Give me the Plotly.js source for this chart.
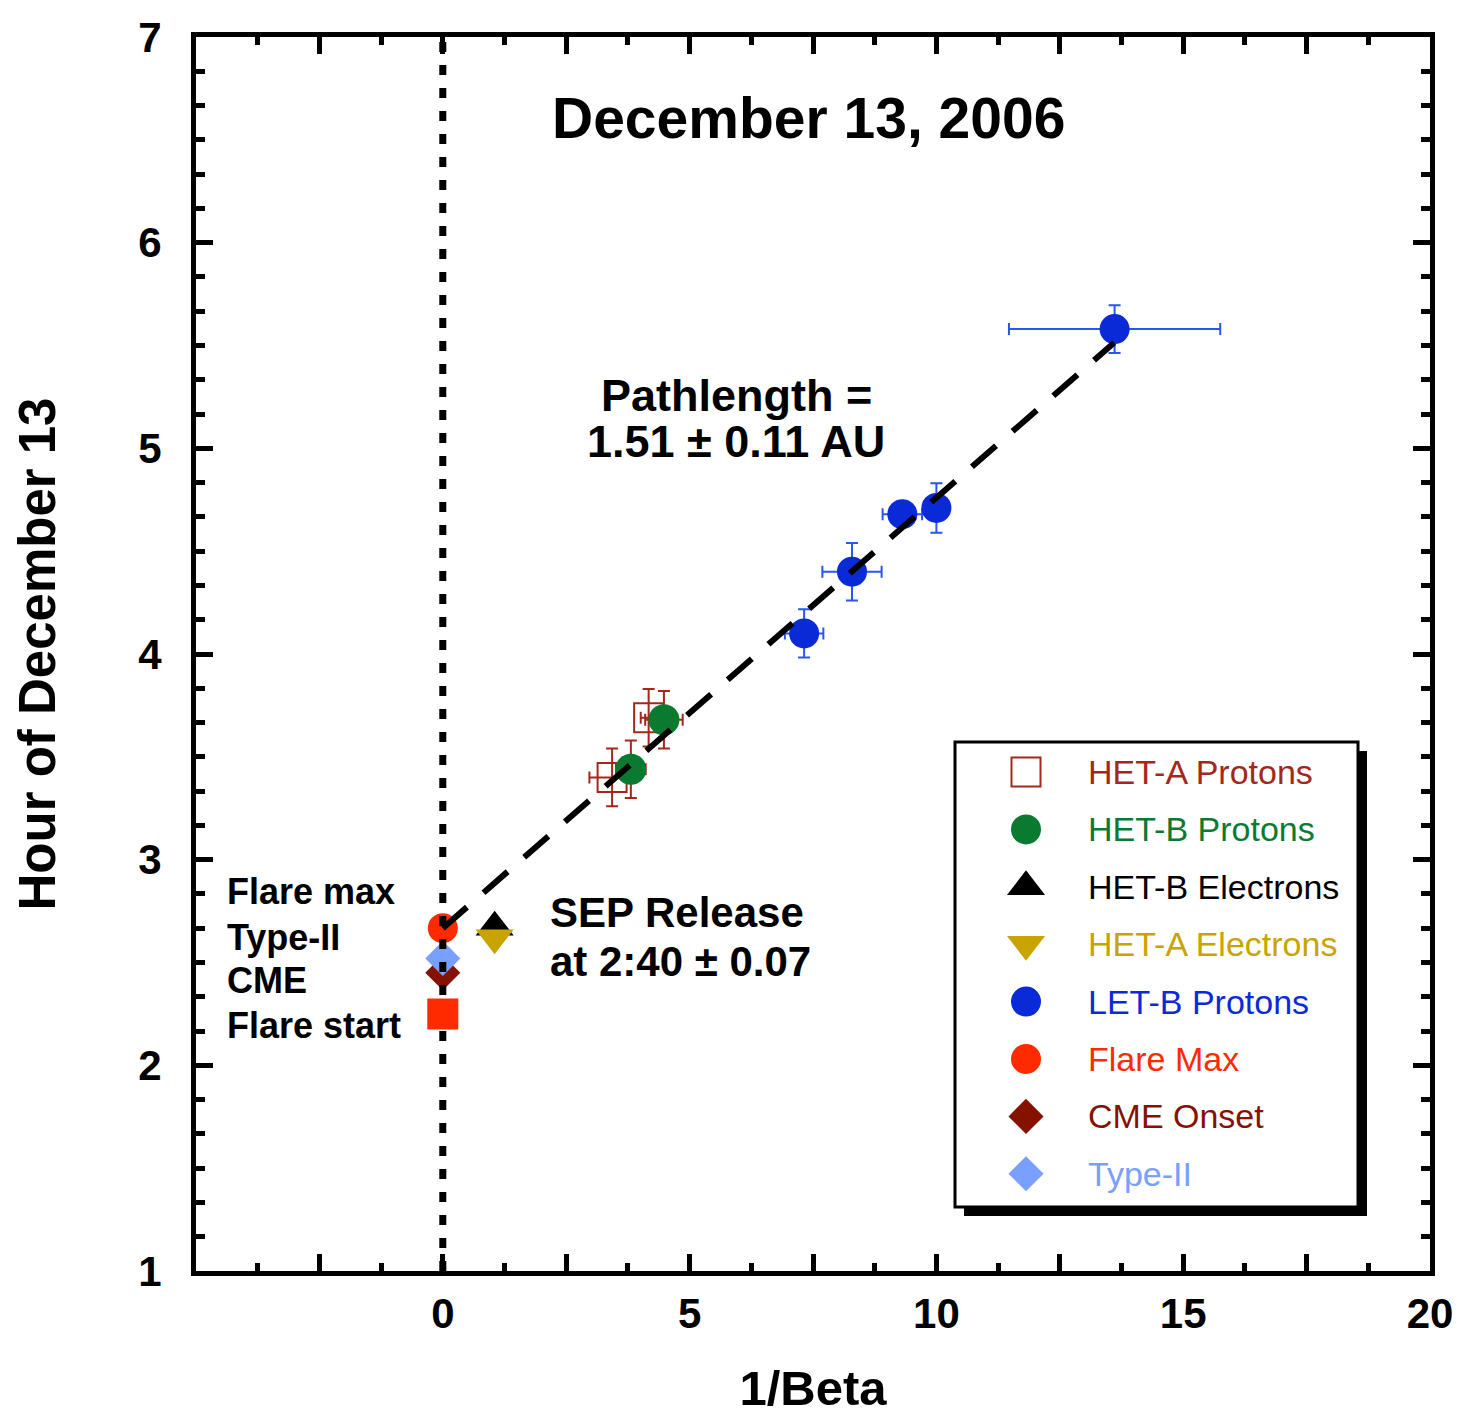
<!DOCTYPE html>
<html>
<head>
<meta charset="utf-8">
<script src="https://cdn.plot.ly/plotly-3.0.1.min.js"></script>
<style>
  html, body { margin: 0; padding: 0; background: #ffffff; }
  #chart { width: 1463px; height: 1415px; }
</style>
</head>
<body>
<div id="chart"></div>
<script>
// Velocity dispersion analysis, December 13, 2006 SEP event.
// Onset time (hour of day) versus 1/beta for each channel.

// HET-A protons
const hetAProtonsX    = [3.43, 4.17];
const hetAProtonsY    = [3.40, 3.69];
const hetAProtonsXErr = [0.46, 0.16];
const hetAProtonsYErr = [0.14, 0.14];

// HET-B protons
const hetBProtonsX    = [3.81, 4.48];
const hetBProtonsY    = [3.44, 3.68];
const hetBProtonsXErr = [0.30, 0.38];
const hetBProtonsYErr = [0.14, 0.14];

// LET-B protons
const letBProtonsX    = [7.32, 8.29, 9.31, 10.00, 13.61];
const letBProtonsY    = [4.10, 4.40, 4.68, 4.71, 5.58];
const letBProtonsXErr = [0.39, 0.60, 0.40, 0.20, 2.14];
const letBProtonsYErr = [0.117, 0.14, 0.06, 0.12, 0.116];

// Electrons
const hetBElectronsX = [1.05];
const hetBElectronsY = [2.672];
const hetAElectronsX = [1.05];
const hetAElectronsY = [2.62];

// Solar event times at 1/beta = 0
const flareMaxX   = [0];
const flareMaxY   = [2.667];
const cmeOnsetX   = [0];
const cmeOnsetY   = [2.45];
const typeIIX     = [0];
const typeIIY     = [2.52];
const flareStartX = [0];
const flareStartY = [2.25];

// Velocity-dispersion fit (release at 2:40, pathlength 1.51 AU)
const fitX = [0, 13.6];
const fitY = [2.667, 5.513];

// Reference line at 1/beta = 0
const zeroLineX = [0, 0];
const zeroLineY = [1, 7];

// Axis ticks
const xTickVals = [-2.5, 0, 2.5, 5, 7.5, 10, 12.5, 15, 17.5, 20];
const xTickText = ['', '0', '', '5', '', '10', '', '15', '', '20'];
const yTickVals = [1, 2, 3, 4, 5, 6, 7];

// Legend entries
const legendLabels  = ['HET-A Protons', 'HET-B Protons', 'HET-B Electrons', 'HET-A Electrons',
                       'LET-B Protons', 'Flare Max', 'CME Onset', 'Type-II'];
const legendColors  = ['#a3281c', '#0a7a30', '#000000', '#c9a400',
                       '#0a2ad8', '#ff2a00', '#851200', '#7aa0ff'];
const legendSymbols = ['square-open', 'circle', 'triangle-up', 'triangle-down',
                       'circle', 'circle', 'diamond', 'diamond'];

const FONT = 'Liberation Sans, Arial, Helvetica, sans-serif';
const C = {
  hetA: '#a3281c', hetB: '#0a7a30', letB: '#0a2ad8', letBErr: '#2a55ee',
  elecB: '#000000', elecA: '#c9a400', flare: '#ff2a00', cme: '#851200', typeII: '#7aa0ff'
};

const traces = [
  {
    x: hetAProtonsX, y: hetAProtonsY, type: 'scatter', mode: 'markers',
    marker: { symbol: 'square-open', size: 29, color: C.hetA, line: { width: 2, color: C.hetA } },
    error_x: { type: 'data', array: hetAProtonsXErr, color: C.hetA, thickness: 2, width: 6 },
    error_y: { type: 'data', array: hetAProtonsYErr, color: C.hetA, thickness: 2, width: 6 }
  },
  {
    x: hetBProtonsX, y: hetBProtonsY, type: 'scatter', mode: 'markers',
    marker: { symbol: 'circle', size: 31, color: C.hetB },
    error_x: { type: 'data', array: hetBProtonsXErr, color: C.hetA, thickness: 2, width: 6 },
    error_y: { type: 'data', array: hetBProtonsYErr, color: C.hetA, thickness: 2, width: 6 }
  },
  {
    x: letBProtonsX, y: letBProtonsY, type: 'scatter', mode: 'markers',
    marker: { symbol: 'circle', size: 30, color: C.letB },
    error_x: { type: 'data', array: letBProtonsXErr, color: C.letBErr, thickness: 2, width: 6 },
    error_y: { type: 'data', array: letBProtonsYErr, color: C.letBErr, thickness: 2, width: 6 }
  },
  {
    x: hetBElectronsX, y: hetBElectronsY, type: 'scatter', mode: 'markers',
    marker: { symbol: 'triangle-up', size: 33, color: C.elecB }
  },
  {
    x: hetAElectronsX, y: hetAElectronsY, type: 'scatter', mode: 'markers',
    marker: { symbol: 'triangle-down', size: 33, color: C.elecA }
  },
  {
    x: flareMaxX, y: flareMaxY, type: 'scatter', mode: 'markers',
    marker: { symbol: 'circle', size: 30, color: C.flare }
  },
  {
    x: cmeOnsetX, y: cmeOnsetY, type: 'scatter', mode: 'markers',
    marker: { symbol: 'diamond', size: 27, color: C.cme }
  },
  {
    x: typeIIX, y: typeIIY, type: 'scatter', mode: 'markers',
    marker: { symbol: 'diamond', size: 27, color: C.typeII }
  },
  {
    x: fitX, y: fitY, type: 'scatter', mode: 'lines',
    line: { color: '#000000', width: 6, dash: '32px,22px' }
  },
  {
    x: zeroLineX, y: zeroLineY, type: 'scatter', mode: 'lines',
    line: { color: '#000000', width: 7, dash: '10px,13px' }
  },
  {
    x: flareStartX, y: flareStartY, type: 'scatter', mode: 'markers',
    marker: { symbol: 'square', size: 28, color: C.flare, line: { width: 3, color: C.flare } }
  }
];

// Legend panel (paper coordinates)
const plotL = 196, plotT = 37, plotW = 1234, plotH = 1234;
const px2x = p => (p - plotL) / plotW;
const px2y = p => 1 - (p - plotT) / plotH;
const legBox = { x0: px2x(955), x1: px2x(1358), y0: px2y(1207), y1: px2y(742) };
const shadowDx = 9 / plotW, shadowDy = 9 / plotH;
const keyX = px2x(1026), labelX = px2x(1086);
const rowY0 = px2y(772), rowStep = 57.4 / plotH;

legendLabels.forEach((lab, i) => {
  const open = legendSymbols[i] === 'square-open';
  const isDiamond = legendSymbols[i] === 'diamond';
  const isTri = legendSymbols[i].indexOf('triangle') === 0;
  traces.push({
    x: [keyX], y: [rowY0 - i * rowStep], xaxis: 'x2', yaxis: 'y2',
    type: 'scatter', mode: 'markers', cliponaxis: false,
    marker: {
      symbol: legendSymbols[i],
      size: open ? 29 : (isDiamond ? 27 : (isTri ? 33 : 30)),
      color: legendColors[i],
      line: open ? { width: 2, color: legendColors[i] } : { width: 0 }
    }
  });
});

const boldFont = (size) => ({ family: FONT, size: size, color: '#000000', weight: 'bold' });

const annotations = [
  { x: 7.4, y: 6.605, text: 'December 13, 2006', xanchor: 'center', yanchor: 'middle', font: boldFont(57) },
  { x: 5.95, y: 5.255, text: 'Pathlength =', xanchor: 'center', yanchor: 'middle', font: boldFont(45) },
  { x: 5.95, y: 5.035, text: '1.51 ± 0.11 AU', xanchor: 'center', yanchor: 'middle', font: boldFont(45) },
  { x: 2.14, y: 2.745, text: 'SEP Release', xanchor: 'left', yanchor: 'middle', font: boldFont(42) },
  { x: 2.14, y: 2.503, text: 'at 2:40 ± 0.07', xanchor: 'left', yanchor: 'middle', font: boldFont(42) },
  { x: -4.42, y: 2.845, text: 'Flare max', xanchor: 'left', yanchor: 'middle', font: boldFont(36) },
  { x: -4.42, y: 2.622, text: 'Type-II', xanchor: 'left', yanchor: 'middle', font: boldFont(36) },
  { x: -4.42, y: 2.414, text: 'CME', xanchor: 'left', yanchor: 'middle', font: boldFont(36) },
  { x: -4.42, y: 2.192, text: 'Flare start', xanchor: 'left', yanchor: 'middle', font: boldFont(36) }
].map(a => Object.assign({ xref: 'x', yref: 'y', showarrow: false }, a));

legendLabels.forEach((lab, i) => {
  annotations.push({
    xref: 'paper', yref: 'paper', x: labelX, y: rowY0 - i * rowStep,
    xanchor: 'left', yanchor: 'middle', showarrow: false, text: lab,
    font: { family: FONT, size: 34, color: legendColors[i] }
  });
});

const layout = {
  width: 1463, height: 1415,
  margin: { l: plotL, t: plotT, r: 1463 - plotL - plotW, b: 1415 - plotT - plotH, pad: 0 },
  paper_bgcolor: '#ffffff', plot_bgcolor: '#ffffff',
  showlegend: false,
  font: { family: FONT, color: '#000000' },
  xaxis: {
    range: [-5, 20], showgrid: false, zeroline: false,
    showline: true, linewidth: 5, linecolor: '#000000', mirror: 'ticks',
    ticks: 'inside', ticklen: 17, tickwidth: 5, tickcolor: '#000000',
    tickmode: 'array', tickvals: xTickVals, ticktext: xTickText,
    tickfont: boldFont(42), ticklabelstandoff: 2,
    minor: { tickmode: 'linear', tick0: -5, dtick: 1.25, ticks: 'inside', ticklen: 8, tickwidth: 5, tickcolor: '#000000', showgrid: false },
    title: { text: '1/Beta', font: boldFont(49), standoff: 36 },
    automargin: false
  },
  yaxis: {
    range: [1, 7], showgrid: false, zeroline: false,
    showline: true, linewidth: 5, linecolor: '#000000', mirror: 'ticks',
    ticks: 'inside', ticklen: 17, tickwidth: 5, tickcolor: '#000000',
    tickmode: 'array', tickvals: yTickVals,
    tickfont: boldFont(42), ticklabelstandoff: 21,
    minor: { tickmode: 'linear', tick0: 1, dtick: 1 / 6, ticks: 'inside', ticklen: 9, tickwidth: 5, tickcolor: '#000000', showgrid: false },
    title: { text: 'Hour of December 13', font: boldFont(51), standoff: 68 },
    automargin: false
  },
  xaxis2: { overlaying: 'x', anchor: 'y2', range: [0, 1], visible: false, fixedrange: true },
  yaxis2: { overlaying: 'y', anchor: 'x2', range: [0, 1], visible: false, fixedrange: true },
  shapes: [
    {
      type: 'rect', xref: 'paper', yref: 'paper', layer: 'below',
      x0: legBox.x0 + shadowDx, x1: legBox.x1 + shadowDx,
      y0: legBox.y0 - shadowDy, y1: legBox.y1 - shadowDy,
      fillcolor: '#000000', line: { width: 0 }
    },
    {
      type: 'rect', xref: 'paper', yref: 'paper', layer: 'below',
      x0: legBox.x0, x1: legBox.x1, y0: legBox.y0, y1: legBox.y1,
      fillcolor: '#ffffff', line: { width: 3, color: '#000000' }
    }
  ],
  annotations: annotations
};

Plotly.newPlot('chart', traces, layout, { staticPlot: true, displayModeBar: false });
</script>
</body>
</html>
